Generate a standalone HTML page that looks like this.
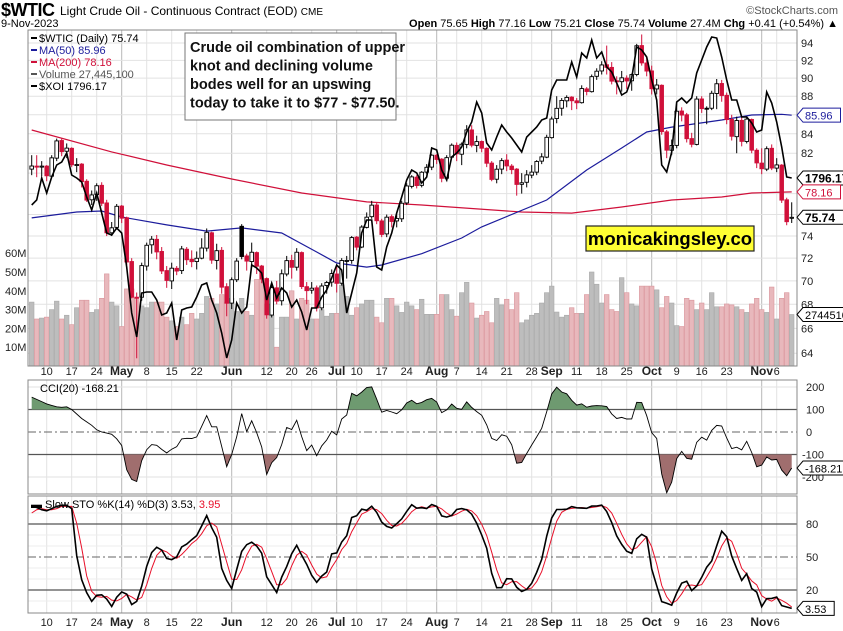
<!DOCTYPE html>
<html><head><meta charset="utf-8"><style>
html,body{margin:0;padding:0;background:#fff;}
svg{display:block;font-family:"Liberation Sans",sans-serif;}
</style></head><body>
<svg id="chart" width="843" height="631" viewBox="0 0 843 631" xmlns="http://www.w3.org/2000/svg">
  <rect x="0" y="0" width="843" height="631" fill="#fff"/>
  <text x="1" y="16" font-size="18" font-weight="bold" style="letter-spacing:-0.5px">$WTIC</text>
  <text x="60" y="15" font-size="12">Light Crude Oil - Continuous Contract (EOD) <tspan font-size="10">CME</tspan></text>
  <text x="838" y="14" font-size="11" fill="#555" text-anchor="end">©StockCharts.com</text>
  <text x="1" y="27" font-size="11">9-Nov-2023</text>
  <text x="838" y="27" font-size="11" text-anchor="end"><tspan font-weight="bold">Open</tspan> 75.65 <tspan font-weight="bold">High</tspan> 77.16 <tspan font-weight="bold">Low</tspan> 75.21 <tspan font-weight="bold">Close</tspan> 75.74 <tspan font-weight="bold">Volume</tspan> 27.4M <tspan font-weight="bold">Chg</tspan> +0.41 (+0.54%) ▲</text>
  <g id="g-price"></g>
  <g id="g-cci"></g>
  <g id="g-sto"></g>
</svg>
<script>
const dates = ["Apr 4","Apr 5","Apr 6","Apr 10","Apr 11","Apr 12","Apr 13","Apr 14","Apr 17","Apr 18","Apr 19","Apr 20","Apr 21","Apr 24","Apr 25","Apr 26","Apr 27","Apr 28",
"May 1","May 2","May 3","May 4","May 5","May 8","May 9","May 10","May 11","May 12","May 15","May 16","May 17","May 18","May 19","May 22","May 23","May 24","May 25","May 26","May 30","May 31",
"Jun 1","Jun 2","Jun 5","Jun 6","Jun 7","Jun 8","Jun 9","Jun 12","Jun 13","Jun 14","Jun 15","Jun 16","Jun 20","Jun 21","Jun 22","Jun 23","Jun 26","Jun 27","Jun 28","Jun 29","Jun 30",
"Jul 3","Jul 5","Jul 6","Jul 7","Jul 10","Jul 11","Jul 12","Jul 13","Jul 14","Jul 17","Jul 18","Jul 19","Jul 20","Jul 21","Jul 24","Jul 25","Jul 26","Jul 27","Jul 28","Jul 31",
"Aug 1","Aug 2","Aug 3","Aug 4","Aug 7","Aug 8","Aug 9","Aug 10","Aug 11","Aug 14","Aug 15","Aug 16","Aug 17","Aug 18","Aug 21","Aug 22","Aug 23","Aug 24","Aug 25","Aug 28","Aug 29","Aug 30","Aug 31",
"Sep 1","Sep 5","Sep 6","Sep 7","Sep 8","Sep 11","Sep 12","Sep 13","Sep 14","Sep 15","Sep 18","Sep 19","Sep 20","Sep 21","Sep 22","Sep 25","Sep 26","Sep 27","Sep 28","Sep 29",
"Oct 2","Oct 3","Oct 4","Oct 5","Oct 6","Oct 9","Oct 10","Oct 11","Oct 12","Oct 13","Oct 16","Oct 17","Oct 18","Oct 19","Oct 20","Oct 23","Oct 24","Oct 25","Oct 26","Oct 27","Oct 30","Oct 31",
"Nov 1","Nov 2","Nov 3","Nov 6","Nov 7","Nov 8","Nov 9"];
const opens = [80.4,80.7,80.6,80.7,79.7,81.5,83.3,82.2,82.5,80.8,80.9,79.2,77.4,77.9,78.8,77.1,74.3,74.8,
76.8,75.7,71.7,68.6,68.6,71.3,73.2,73.7,72.6,70.9,70.0,71.1,70.9,72.8,71.9,71.7,72.0,72.9,74.3,71.8,72.7,69.5,
68.1,70.1,74.9,72.2,71.7,72.5,71.3,70.2,67.1,69.4,68.3,70.6,71.8,71.2,72.5,69.5,69.2,69.4,67.7,69.6,69.9,
70.6,69.8,71.8,71.8,73.9,73.0,74.8,75.8,76.9,75.4,74.2,75.8,75.4,75.6,77.1,78.7,79.6,78.8,80.1,80.6,
81.8,81.4,79.5,81.6,82.8,81.9,82.9,84.4,82.8,83.2,82.5,81.0,79.4,80.4,81.3,80.7,80.4,78.9,79.1,79.8,80.1,81.2,81.6,
83.6,85.6,86.7,87.5,87.9,87.5,87.3,88.8,88.5,90.2,90.8,91.5,91.2,89.7,89.6,90.0,89.7,90.4,93.7,91.7,
90.8,88.8,89.2,84.2,82.3,82.8,86.4,86.0,83.5,82.9,87.7,86.7,86.7,88.3,89.4,88.1,85.5,83.7,85.4,83.2,85.5,82.3,
81.0,80.4,82.5,80.5,80.8,77.4,75.65];
const closes = [80.71,80.61,80.70,79.74,81.53,83.26,82.16,82.52,80.83,80.86,79.16,77.37,77.87,78.76,77.07,74.30,74.76,76.78,
75.66,71.66,68.60,68.56,71.34,73.16,73.71,72.56,70.87,70.04,71.11,70.86,72.83,71.86,71.69,71.99,72.91,74.34,71.83,72.67,69.46,68.09,
70.10,71.74,72.15,71.74,72.53,71.29,70.17,67.12,69.42,68.27,70.62,71.78,71.19,72.53,69.51,69.16,69.37,67.70,69.56,69.86,70.64,
69.79,71.79,71.80,73.86,72.99,74.83,75.75,76.89,75.42,74.15,75.75,75.35,75.63,77.07,78.74,79.63,78.78,80.09,80.58,81.80,
81.37,79.49,81.55,82.82,81.94,82.92,84.40,82.82,83.19,82.51,80.99,79.38,80.39,81.25,80.72,80.35,78.89,79.05,79.83,80.10,81.16,81.63,83.63,
85.55,86.69,87.54,87.87,87.51,87.29,88.84,88.52,90.16,90.77,91.48,91.20,89.66,89.63,90.03,89.68,90.39,93.68,91.71,90.79,
88.82,89.23,84.22,82.31,82.79,86.38,85.97,83.49,82.91,87.69,86.66,86.66,88.32,89.37,88.08,85.49,83.74,85.39,83.21,85.54,82.31,81.02,
80.44,82.46,80.51,80.82,77.37,75.33,75.74];
const highs = [81.8,81.8,81.2,80.8,81.8,83.5,83.5,83.0,82.6,81.5,81.0,79.4,78.3,79.0,79.1,77.4,75.3,77.0,
76.9,75.8,72.0,69.0,71.6,73.4,74.0,74.1,73.0,71.3,71.6,71.3,73.1,73.0,72.7,72.6,73.8,74.7,74.4,73.3,73.0,69.8,
70.3,72.0,75.1,72.4,73.4,72.6,71.4,70.3,69.6,70.0,71.0,72.2,72.3,72.9,72.6,69.9,69.9,69.6,69.8,70.0,71.0,
71.3,72.0,72.2,74.0,74.0,75.0,76.2,77.3,77.1,75.6,76.0,76.0,76.0,77.3,79.0,79.8,79.8,80.2,80.9,81.9,
81.9,81.5,81.8,83.0,83.1,83.1,84.9,84.9,83.8,83.3,82.6,81.2,80.8,81.5,81.9,80.9,80.5,80.0,80.3,80.8,81.3,82.0,83.9,
85.8,88.0,87.8,88.1,88.0,87.8,89.2,89.0,90.4,91.1,91.9,93.7,91.8,90.2,90.8,90.3,90.5,93.9,95.0,92.4,
91.4,89.9,89.3,84.4,83.4,87.2,86.8,86.2,84.1,88.0,88.0,86.9,88.6,89.9,89.8,88.4,86.0,85.8,85.8,85.8,85.6,82.5,
82.5,82.7,82.9,81.5,80.9,77.6,77.16];
const lows = [79.8,79.6,79.7,79.2,79.6,81.2,81.7,81.5,80.6,80.1,78.6,77.2,76.9,77.3,76.8,74.0,74.0,74.6,
75.2,71.4,68.5,63.6,68.3,70.9,72.4,71.9,70.6,69.4,69.3,70.5,70.6,71.4,71.2,71.0,71.9,72.6,71.5,71.0,68.9,67.0,
67.6,69.9,71.9,70.9,71.2,70.6,69.8,66.8,66.9,68.0,67.9,70.4,70.2,70.9,69.3,68.0,68.9,67.4,67.5,68.9,69.5,
69.0,69.6,70.2,71.5,72.7,72.9,74.7,75.6,75.1,73.9,73.9,74.8,74.8,75.3,76.9,78.5,78.5,78.6,79.9,80.3,
80.9,79.1,79.4,81.5,81.2,80.8,82.5,82.6,82.1,82.1,80.6,79.2,79.0,79.9,80.2,79.9,77.8,78.0,78.6,79.5,79.8,80.9,81.5,
83.5,85.1,85.9,86.8,86.5,86.6,87.2,88.1,88.4,89.8,90.4,90.4,89.3,88.2,88.5,88.8,88.6,90.2,91.4,90.2,
88.2,88.2,83.9,81.5,81.8,82.5,85.3,83.1,82.6,82.8,86.2,85.0,86.5,86.6,87.4,85.0,83.3,82.0,82.7,83.0,82.0,80.5,
79.9,80.2,80.3,80.1,77.1,75.0,75.21];
const volumes = [34,25,25.5,26,30,34.5,25,27,22,31,35,35,28.5,30,36,49,34,32,
21,41,41,36,32,31,34,34,34,26,24,21,26,22,28,25,28,37,36,33,38,34,
36,29,36,29,27,46,46,33,27,10,26,26,40,25,36,35,25,25,30,26.5,28,
28,43,37,27,31,33,35,35,26,23,36,36,32,28.5,34,32,30,35.5,27.5,27.5,
27.5,38,38,30,26.5,39,44.5,33.5,25.5,27,29,23,36,32.5,35.5,30,39,23,24.5,27,28,33.5,39,
42.5,28.7,26,27,31,28,28,38,50,43.5,33.5,38,30,29,47,39,33,32,42.5,42.5,
42.5,40.5,31,37,33.5,21.5,21,36,35,30,33.5,30,39,31.5,31.5,33,32.5,31.5,30,28.5,33,36,
30,28.5,42,25,36,39,27.4];
const xoi = [1769,1774,1796,1781,1797,1809,1812,1821,1799,1796,1792,1777,1764,1781,1761,1741,1739,1746,1741,1707,1661,1637,1681,1682,1682,1674,1659,1661,1671,1634,1664,1666,1667,1677,1689,1691,1674,1661,1641,1616,1634,1671,1661,1667,1709,1706,1701,1674,1691,1676,1686,1681,1667,1674,1662,1644,1666,1666,1677,1684,1696,1709,1704,1661,1681,1701,1741,1754,1754,1707,1704,1727,1741,1761,1777,1794,1804,1801,
1791,1797,1826,1824,1804,1794,1817,1821,1827,1842,1852,1872,1861,1831,1824,1837,1849,1842,1836,1829,1822,1837,1842,1847,1854,1856,1884,1894,1894,1894,1912,1897,1921,1916,1934,1916,1922,1907,1902,1891,1879,1882,1896,1927,1924,1917,1894,1874,1809,1802,1822,1872,1876,1871,1876,1901,1914,1927,1937,1936,1917,1894,1874,1874,1857,1857,1851,1842,1844,1882,1871,1852,1827,1797,1796];
const ma50Idx = [0,9,14,18,27,35,42,50,57,61,67,70,78,86,90,103,111,118,123,128,138,144,150,152];
const ma50Val = [75.68,76.24,76.33,75.77,75.03,74.46,74.75,74.28,72.55,71.57,71.21,71.39,72.40,73.82,74.84,77.38,80.31,82.53,84.18,84.70,85.45,85.98,86.05,85.96];
const ma200Idx = [0,16,27,40,54,67,78,98,108,118,128,138,144,152];
const ma200Val = [84.39,82.13,80.81,79.42,78.06,77.20,76.90,76.24,76.14,76.71,77.38,77.67,78.06,78.16];
/* indicator values for the first days (before enough history exists) */
const cciWarmup = [155,145,135,125,118,112,110,112,100,80,60,45,30,10,0,-5,-10,-30,-60];
const stoKWarmup = [96,95,93,92,94,96,97,97,94];
const stoDWarmup = [90,93,94,93,93,94,96,96,96];
const priceTicks = [64,66,68,70,72,74,76,78,80,82,84,86,88,90,92,94];
const priceTickShown = [64,66,68,70,72,74,82,84,88,90,92,94];
const volTicks = [10,20,30,40,50,60];
const cciTicks = [200,100,0,-100,-200];
const stoTicks = [80,50,20];
const axisLabels = [["10",3],["17",8],["24",13],["May",18],["8",23],["15",28],["22",33],["Jun",40],["12",47],["20",52],["26",56],["Jul",61],["10",65],["17",70],["24",75],["Aug",81],["7",85],["14",90],["21",95],["28",100],["Sep",104],["11",109],["18",114],["25",119],["Oct",124],["9",129],["16",134],["23",139],["Nov",146],["6",149]];

const NS = "http://www.w3.org/2000/svg";
const L = 28, R = 797;
const xI = i => 31.7 + i * 5.0;
const yP = p => 43 + 807 * Math.log(94 / p);
const yV = v => 366 - v * 1.88;
const yX = v => 355 - (v - 1619);
const yC = v => 432 - v * 0.225;
const yS = v => 557 - (v - 50) * 1.1;
function mk(tag, attrs, parent, text) {
  const e = document.createElementNS(NS, tag);
  for (const k in attrs) e.setAttribute(k, attrs[k]);
  if (text !== undefined) e.textContent = text;
  parent.appendChild(e);
  return e;
}
const svg = document.getElementById('chart');
const gP = document.getElementById('g-price');
const gC = document.getElementById('g-cci');
const gS = document.getElementById('g-sto');
const defs = mk('defs', {}, svg);
const cp1 = mk('clipPath', {id: 'clipP'}, defs); mk('rect', {x: L, y: 30, width: R - L, height: 336}, cp1);
const cpU = mk('clipPath', {id: 'clipU'}, defs); mk('rect', {x: L, y: 380, width: R - L, height: yC(100) - 380}, cpU);
const cpD = mk('clipPath', {id: 'clipD'}, defs); mk('rect', {x: L, y: yC(-100), width: R - L, height: 494 - yC(-100)}, cpD);
const cpC = mk('clipPath', {id: 'clipC'}, defs); mk('rect', {x: L, y: 380, width: R - L, height: 114}, cpC);

function vgrid(g, y0, y1) {
  for (const [lab, i] of axisLabels) {
    const month = isNaN(+lab);
    const ln = mk('line', {x1: xI(i), x2: xI(i), y1: y0, y2: y1, stroke: month ? '#b8b8b8' : '#e2e2e2', 'stroke-width': 1}, g);
    
    
  }
}
function dateAxis(y) {
  for (const [lab, i] of axisLabels) {
    const month = isNaN(+lab);
    const t = mk('text', {x: xI(i), y: y, 'font-size': month ? 12 : 11, 'font-weight': month ? 'bold' : 'normal', 'text-anchor': 'middle', fill: '#222'}, svg, lab);
    
    
  }
}
function tag(y, txt, color, bold, name) {
  const g = mk('g', {}, svg);
  
  
  const w = txt.length * (bold ? 7.2 : 6.3) + 6;
  mk('path', {d: `M797,${y} L803,${y-7} L${803+w},${y-7} L${803+w},${y+7} L803,${y+7} Z`, fill: '#fff', stroke: color, 'stroke-width': 1}, g);
  mk('text', {x: 805, y: y + 4.5, 'font-size': bold ? 12 : 11, 'font-weight': bold ? 'bold' : 'normal', fill: color}, g, txt);
}

/* ---------- price panel ---------- */
vgrid(gP, 30, 366);
for (const p of priceTicks) {
  const ln = mk('line', {x1: L, x2: R, y1: yP(p), y2: yP(p), stroke: '#e2e2e2'}, gP);
  
  
}
for (const p of priceTickShown) {
  const t = mk('text', {x: 801, y: yP(p) + 4, 'font-size': 11, fill: '#222'}, gP, String(p));
  
  
}
for (const v of volTicks) {
  const t = mk('text', {x: 5, y: yV(v) + 4, 'font-size': 11, fill: '#222'}, gP, v + 'M');
  
  
}
const gVol = mk('g', {'clip-path': 'url(#clipP)'}, gP);


volumes.forEach((v, i) => {
  const down = i > 0 && closes[i] < closes[i - 1];
  const b = mk('rect', {x: xI(i) - 2.3, y: yV(v), width: 4.6, height: 366 - yV(v), fill: down ? '#e8b8bc' : '#bdbdbd', stroke: down ? '#d9959b' : '#a8a8a8', 'stroke-width': 0.6}, gVol);
  
  
});
function polyFrom(idx, vals, fy) { return idx.map((ix, k) => xI(ix).toFixed(1) + ',' + fy(vals[k]).toFixed(1)).join(' '); }
const ma200 = mk('polyline', {points: polyFrom(ma200Idx, ma200Val, yP), fill: 'none', stroke: '#d0103a', 'stroke-width': 1.2}, gP);


const ma50 = mk('polyline', {points: polyFrom(ma50Idx, ma50Val, yP), fill: 'none', stroke: '#1c1c9c', 'stroke-width': 1.2}, gP);


const gCan = mk('g', {'clip-path': 'url(#clipP)'}, gP);


closes.forEach((c, i) => {
  const o = opens[i];
  const down = i > 0 && c < closes[i - 1];
  const col = down ? '#d0103a' : '#000';
  const filled = c < o;
  const x = xI(i);
  const g = mk('g', {}, gCan);
  
  
  mk('line', {x1: x, x2: x, y1: yP(highs[i]), y2: yP(lows[i]), stroke: col, 'stroke-width': 1}, g);
  const top = yP(Math.max(o, c)), bot = yP(Math.min(o, c));
  mk('rect', {x: x - 1.8, y: top, width: 3.6, height: Math.max(1, bot - top), fill: filled ? col : '#fff', stroke: col, 'stroke-width': 0.9}, g);
});
const xoiLine = mk('polyline', {points: xoi.map((v, i) => xI(i).toFixed(1) + ',' + yX(v).toFixed(1)).join(' '), fill: 'none', stroke: '#000', 'stroke-width': 1.6, 'clip-path': 'url(#clipP)'}, gP);


const frame1 = mk('rect', {x: L, y: 30, width: R - L, height: 336, fill: 'none', stroke: '#888'}, gP);



const leg = mk('g', {'font-size': 11}, gP);


const legItems = [["$WTIC (Daily) 75.74", '#000', 42], ["MA(50) 85.96", '#1c1c9c', 54], ["MA(200) 78.16", '#d0103a', 66], ["Volume 27,445,100", '#555', 78], ["$XOI 1796.17", '#000', 90]];
for (const [t, c, y] of legItems) {
  mk('rect', {x: 31, y: y - 5, width: 6, height: 2, fill: c}, leg);
  const tx = mk('text', {x: 39, y: y, fill: c}, leg, t);
  
  
}
const ann = mk('g', {}, gP);


mk('rect', {x: 185, y: 33, width: 211, height: 87, fill: '#fff', stroke: '#777'}, ann);
["Crude oil combination of upper", "knot and declining volume", "bodes well for an upswing", "today to take it to $77 - $77.50."].forEach((t, k) => {
  mk('text', {x: 190, y: 52 + k * 18.5, 'font-size': 14.5, 'font-weight': 'bold', fill: '#111'}, ann, t);
});
const wm = mk('g', {}, gP);


mk('rect', {x: 586, y: 226, width: 168, height: 25, fill: '#ffff33', stroke: '#222', 'stroke-width': 1.2}, wm);
mk('text', {x: 670, y: 245, 'font-size': 18.5, 'font-weight': 'bold', 'text-anchor': 'middle', fill: '#000'}, wm, 'monicakingsley.co');

tag(yP(ma50Val[ma50Val.length - 1]), '85.96', '#1c1c9c', false, 'ma50-value-tag');
tag(yX(xoi[xoi.length - 1]), '1796.17', '#000', true, 'xoi-value-tag');
tag(yP(ma200Val[ma200Val.length - 1]), '78.16', '#d0103a', false, 'ma200-value-tag');
tag(yP(closes[closes.length - 1]), '75.74', '#000', true, 'close-value-tag');
tag(yV(volumes[volumes.length - 1]), '27445100', '#000', false, 'volume-value-tag');
dateAxis(375);

/* ---------- CCI ---------- */
const tp = closes.map((c, i) => (highs[i] + lows[i] + c) / 3);
const cci = tp.map((v, i) => {
  if (i < cciWarmup.length) return cciWarmup[i];
  const w = tp.slice(i - 19, i + 1);
  const m = w.reduce((a, b) => a + b, 0) / w.length;
  const md = w.reduce((a, b) => a + Math.abs(b - m), 0) / w.length;
  return md === 0 ? 0 : (v - m) / (0.015 * md);
});
vgrid(gC, 380, 494);
for (const v of cciTicks) {
  const ln = mk('line', {x1: L, x2: R, y1: yC(v), y2: yC(v), stroke: Math.abs(v) === 100 ? '#555' : (v === 0 ? '#666' : '#e2e2e2'), 'stroke-width': Math.abs(v) === 100 ? 1.2 : 1, 'stroke-dasharray': v === 0 ? '8,3,2,3' : 'none'}, gC);
  
  
  const t = mk('text', {x: v < 0 ? 802 : 806, y: yC(v) + 4, 'font-size': 11, fill: '#222'}, gC, String(v));
  
  
}
const cciPts = cci.map((v, i) => xI(i).toFixed(1) + ',' + yC(v).toFixed(1));
const upArea = mk('polygon', {points: `${xI(0)},${yC(100)} ` + cciPts.join(' ') + ` ${xI(cci.length - 1)},${yC(100)}`, fill: '#6e9a70', 'clip-path': 'url(#clipU)'}, gC);


const dnArea = mk('polygon', {points: `${xI(0)},${yC(-100)} ` + cciPts.join(' ') + ` ${xI(cci.length - 1)},${yC(-100)}`, fill: '#a06e6e', 'clip-path': 'url(#clipD)'}, gC);


const cciLine = mk('polyline', {points: cciPts.join(' '), fill: 'none', stroke: '#000', 'stroke-width': 0.9, 'clip-path': 'url(#clipC)'}, gC);


const frame2 = mk('rect', {x: L, y: 380, width: R - L, height: 114, fill: 'none', stroke: '#888'}, gC);


const cciLeg = mk('text', {x: 40, y: 392, 'font-size': 11}, gC, 'CCI(20) -168.21');


tag(yC(cci[cci.length - 1]), '-168.21', '#000', false, 'cci-value-tag');

/* ---------- Slow stochastic ---------- */
const fastK = closes.map((c, i) => {
  const s = Math.max(0, i - 13);
  const hh = Math.max(...highs.slice(s, i + 1)), ll = Math.min(...lows.slice(s, i + 1));
  return hh === ll ? 50 : 100 * (c - ll) / (hh - ll);
});
const sma3 = a => a.map((v, i) => { const w = a.slice(Math.max(0, i - 2), i + 1); return w.reduce((x, y) => x + y, 0) / w.length; });
const slowK = sma3(fastK).map((v, i) => i < stoKWarmup.length ? stoKWarmup[i] : v);
const slowD = sma3(slowK).map((v, i) => i < stoDWarmup.length ? stoDWarmup[i] : v);
vgrid(gS, 496, 613);
for (const v of [10, 30, 40, 60, 70, 90]) {
  mk('line', {x1: L, x2: R, y1: yS(v), y2: yS(v), stroke: '#ececec'}, gS);
}
for (const v of stoTicks) {
  const ln = mk('line', {x1: L, x2: R, y1: yS(v), y2: yS(v), stroke: v === 50 ? '#666' : '#555', 'stroke-width': v === 50 ? 1 : 1.2, 'stroke-dasharray': v === 50 ? '8,3,2,3' : 'none'}, gS);
  
  
  const t = mk('text', {x: 806, y: yS(v) + 4, 'font-size': 11, fill: '#222'}, gS, String(v));
  
  
}
const dLine = mk('polyline', {points: slowD.map((v, i) => xI(i).toFixed(1) + ',' + yS(v).toFixed(1)).join(' '), fill: 'none', stroke: '#e8102a', 'stroke-width': 1}, gS);


const kLine = mk('polyline', {points: slowK.map((v, i) => xI(i).toFixed(1) + ',' + yS(v).toFixed(1)).join(' '), fill: 'none', stroke: '#000', 'stroke-width': 1.6}, gS);


const frame3 = mk('rect', {x: L, y: 496, width: R - L, height: 117, fill: 'none', stroke: '#888'}, gS);


const stoLeg = mk('text', {x: 31, y: 508, 'font-size': 11}, gS);


stoLeg.innerHTML = '<tspan font-weight="bold">▬</tspan> Slow STO %K(14) %D(3) 3.53, <tspan fill="#e8102a">3.95</tspan>';
tag(yS(slowK[slowK.length - 1]), '3.53', '#000', false, 'stochastic-value-tag');
dateAxis(626);
</script>
</body></html>
